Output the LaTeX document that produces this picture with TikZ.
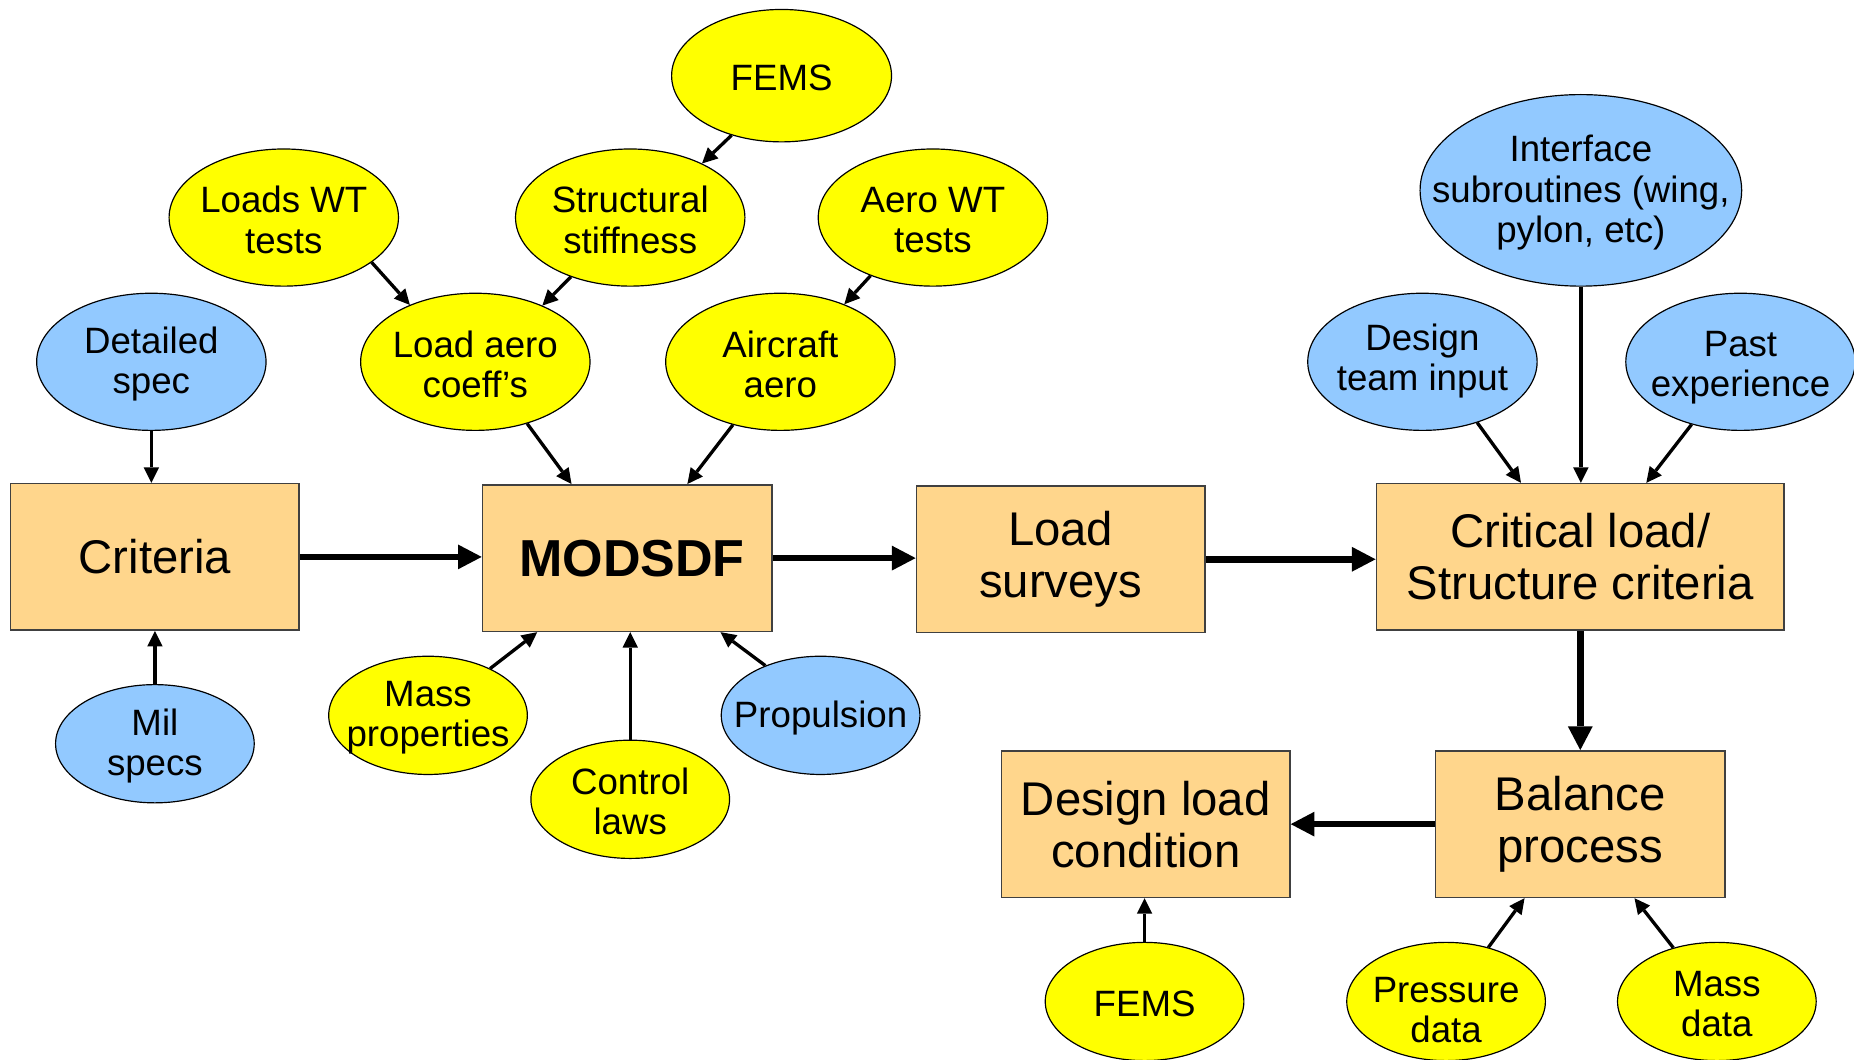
\documentclass[tikz,border=0pt]{standalone}
\usepackage{fontspec}
\setmainfont{Liberation Sans}
\usetikzlibrary{arrows.meta,shapes.geometric}
\definecolor{ellyellow}{HTML}{FFFF00}
\definecolor{ellblue}{HTML}{92C9FF}
\definecolor{boxfill}{HTML}{FFD68C}
\definecolor{boxline}{HTML}{404040}
\begin{document}
\begin{tikzpicture}[x=1pt,y=1pt,
  oval/.style={ellipse, draw=black, line width=1pt, inner sep=0pt},
  big/.style={minimum width=194pt, minimum height=116pt},
  small/.style={minimum width=168pt, minimum height=100pt},
  yel/.style={oval, fill=ellyellow},
  blu/.style={oval, fill=ellblue},
  otxt/.style={font=\fontsize{31}{34}\selectfont, align=center, inner sep=0pt, yshift=-2pt},
  proc/.style={rectangle, draw=boxline, line width=1.3pt, fill=boxfill,
    minimum width=244pt, minimum height=124pt, inner sep=0pt,
    font=\fontsize{40}{44}\selectfont, align=center},
  arr/.style={line width=2.8pt, -{Triangle[length=13pt,width=13pt,line width=0pt]}},
  bigarr/.style={line width=5.5pt, -{Triangle[length=20pt,width=21pt,line width=0pt]}}
]
\useasboundingbox (0,0) rectangle (1568,-896);
\fill[white] (0,0) rectangle (1568,-896);

% process boxes
\node[proc] (crit) at (131,-471) {Criteria};
\node[proc, minimum width=245pt] (mod) at (530.5,-472) {};
\node[font=\fontsize{44}{48}\selectfont\bfseries, inner sep=0pt] (mod-t) at ([xshift=4pt]mod.center) {MODSDF};
\node[proc] (ls) at (897,-473) {Load\\surveys};
\node[proc, minimum width=345pt] (crl) at (1336.5,-471) {Critical load/\\Structure criteria};
\node[proc] (dlc) at (969,-697) {Design load\\condition};
\node[proc, minimum width=245pt] (bal) at (1336.5,-697) {Balance\\process};

% input ellipses
\node[yel, minimum width=186pt, minimum height=112pt, label={[otxt, name=femsA-t]center:FEMS}] (femsA) at (661,-64) {};
\node[yel, big, label={[otxt, name=lwt-t]center:{Loads WT\\tests}}] (lwt) at (240,-184) {};
\node[yel, big, label={[otxt, name=ss-t]center:{Structural\\stiffness}}] (ss) at (533,-184) {};
\node[yel, big, label={[otxt, name=awt-t]center:{Aero WT\\tests}}] (awt) at (789,-184) {};
\node[blu, big, label={[otxt, name=ds-t]center:{Detailed\\spec}}] (ds) at (128,-306) {};
\node[yel, big, label={[otxt, name=lac-t]center:{Load aero\\coeff’s}}] (lac) at (402,-306) {};
\node[yel, big, label={[otxt, name=aa-t]center:{Aircraft\\aero}}] (aa) at (660,-306) {};
\node[blu, minimum width=272pt, minimum height=162pt, label={[otxt, name=isub-t]center:{Interface\\subroutines (wing,\\pylon, etc)}}] (isub) at (1337,-161) {};
\node[blu, big, label={[otxt, name=dti-t, yshift=3pt]center:{Design\\team input}}] (dti) at (1203,-306) {};
\node[blu, big, label={[otxt, name=pe-t, yshift=-3pt]center:{Past\\experience}}] (pe) at (1472,-306) {};
\node[blu, small, label={[otxt, name=ms-t]center:{Mil\\specs}}] (ms) at (131,-629) {};
\node[yel, small, label={[otxt, name=mp-t]center:{Mass\\properties}}] (mp) at (362,-605) {};
\node[yel, small, label={[otxt, name=ctl-t]center:{Control\\laws}}] (ctl) at (533,-676) {};
\node[blu, small, label={[otxt, name=prop-t]center:Propulsion}] (prop) at (694,-605) {};
\node[yel, small, label={[otxt, name=femsB-t]center:FEMS}] (femsB) at (968,-847) {};
\node[yel, small, label={[otxt, name=pd-t, yshift=-5pt]center:{Pressure\\data}}] (pd) at (1223,-847) {};
\node[yel, small, label={[otxt, name=md-t]center:{Mass\\data}}] (md) at (1452,-847) {};

% main flow
\draw[bigarr] (crit.east) -- (crit.east -| mod.west);
\draw[bigarr] (mod.east) -- (mod.east -| ls.west);
\draw[bigarr] (ls.east) -- (ls.east -| crl.west);
\draw[bigarr] (crl.south) -- (bal.north);
\draw[bigarr] (bal.west) -- (bal.west -| dlc.east);

% inputs
\draw[arr] (ds.south) -- (ds.south |- crit.north);
\draw[arr] (ms.north) -- (ms.north |- crit.south);
\draw[arr] (lwt.-27) -- (lac.139);
\draw[arr] (ss.-135) -- (lac.40);
\draw[arr] (femsA.-130) -- (ss.37);
\draw[arr] (awt.-137) -- (aa.42);
\draw[arr] (lac.-50) -- ([xshift=76pt]mod.north west);
\draw[arr] (aa.-127) -- ([xshift=174pt]mod.north west);
\draw[arr] (mp.37) -- ([xshift=47pt]mod.south west);
\draw[arr] (ctl.north) -- (ctl.north |- mod.south);
\draw[arr] (prop.138) -- ([xshift=202pt]mod.south west);
\draw[arr] (dti.-48) -- ([xshift=123pt]crl.north west);
\draw[arr] (isub.south) -- (isub.south |- crl.north);
\draw[arr] (pe.-128) -- ([xshift=229pt]crl.north west);
\draw[arr] (femsB.north) -- (femsB.north |- dlc.south);
\draw[arr] (pd.52) -- ([xshift=76pt]bal.south west);
\draw[arr] (md.129) -- ([xshift=169pt]bal.south west);
\end{tikzpicture}
\end{document}
